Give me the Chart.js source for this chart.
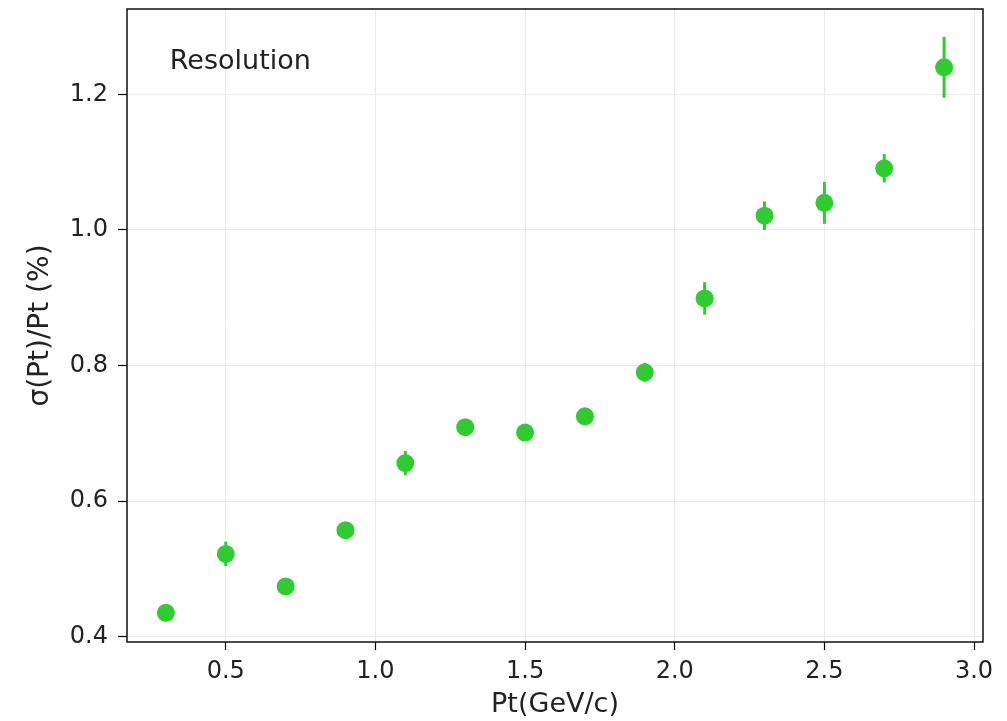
<!DOCTYPE html>
<html>
<head>
<meta charset="utf-8">
<script src="https://cdn.jsdelivr.net/npm/chart.js@4"></script>
<style>
  html, body { margin: 0; padding: 0; background: #fff; }
  #wrap { width: 1007px; height: 721px; }
</style>
</head>
<body>
<div id="wrap"><canvas id="resChart" width="1007" height="721"></canvas></div>
<script>
// data
const ptValues = [0.3, 0.5, 0.7, 0.9, 1.1, 1.3, 1.5, 1.7, 1.9, 2.1, 2.3, 2.5, 2.7, 2.9];
const resValues = [0.435, 0.522, 0.474, 0.557, 0.656, 0.709, 0.701, 0.725, 0.790, 0.899, 1.021, 1.040, 1.091, 1.240];
const resErrors = [0.006, 0.018, 0.008, 0.006, 0.018, 0.012, 0.008, 0.008, 0.014, 0.024, 0.021, 0.031, 0.021, 0.045];
const xTicks = [0.5, 1.0, 1.5, 2.0, 2.5, 3.0];
const yTicks = [0.4, 0.6, 0.8, 1.0, 1.2];

const green = '#2ecc2e';
const font = "'DejaVu Sans', sans-serif";

// error bars, drawn through the chart scales
const errorBars = {
    id: 'errorBars',
    beforeDatasetsDraw(chart) {
        const ctx = chart.ctx;
        const xs = chart.scales.x, ys = chart.scales.y;
        ctx.save();
        ctx.strokeStyle = green;
        ctx.lineWidth = 3;
        ptValues.forEach((x, i) => {
            const px = xs.getPixelForValue(x);
            ctx.beginPath();
            ctx.moveTo(px, ys.getPixelForValue(resValues[i] - resErrors[i]));
            ctx.lineTo(px, ys.getPixelForValue(resValues[i] + resErrors[i]));
            ctx.stroke();
        });
        ctx.restore();
    }
};

// frame + "Resolution" label
const frameAndLabel = {
    id: 'frameAndLabel',
    afterDraw(chart) {
        const ctx = chart.ctx;
        const a = chart.chartArea;
        ctx.save();
        ctx.strokeStyle = '#111';
        ctx.lineWidth = 1.5;
        ctx.strokeRect(a.left, a.top, a.right - a.left, a.bottom - a.top);
        ctx.fillStyle = '#222';
        ctx.font = '27px ' + font;
        ctx.textBaseline = 'middle';
        ctx.fillText('Resolution', a.left + 0.05 * (a.right - a.left), a.bottom - 0.917 * (a.bottom - a.top));
        ctx.restore();
    }
};

const ctx = document.getElementById('resChart').getContext('2d');
const resChart = new Chart(ctx, {
    type: 'scatter',
    data: {
        datasets: [{
            label: 'Resolution',
            data: ptValues.map((x, i) => ({ x: x, y: resValues[i] })),
            backgroundColor: green,
            borderColor: green,
            pointRadius: 9,
            pointBorderWidth: 0
        }]
    },
    options: {
        responsive: false,
        animation: false,
        layout: { padding: { left: 0, top: 7, right: 24, bottom: 0 } },
        plugins: { legend: { display: false }, tooltip: { enabled: false } },
        scales: {
            x: {
                type: 'linear',
                min: 0.17,
                max: 3.03,
                afterBuildTicks(axis) { axis.ticks = xTicks.map(v => ({ value: v })); },
                afterFit(axis) { axis.height = 79; axis.paddingLeft = 0; axis.paddingRight = 0; },
                grid: { color: '#ebebeb', lineWidth: 1, drawTicks: true, tickLength: 8, tickColor: '#000', tickWidth: 1.2 },
                border: { display: false },
                ticks: {
                    color: '#222',
                    font: { family: font, size: 24 },
                    padding: 7,
                    maxRotation: 0,
                    callback: v => v.toFixed(1)
                },
                title: {
                    display: true,
                    text: 'Pt(GeV/c)',
                    color: '#222',
                    font: { family: font, size: 27 },
                    padding: { top: 0, bottom: 0 }
                }
            },
            y: {
                type: 'linear',
                min: 0.392,
                max: 1.326,
                afterBuildTicks(axis) { axis.ticks = yTicks.map(v => ({ value: v })); },
                afterFit(axis) { axis.width = 127; axis.paddingTop = 0; axis.paddingBottom = 0; },
                grid: { color: '#ebebeb', lineWidth: 1, drawTicks: true, tickLength: 9, tickColor: '#000', tickWidth: 1.2 },
                border: { display: false },
                ticks: {
                    color: '#222',
                    font: { family: font, size: 24 },
                    padding: 10,
                    callback: v => v.toFixed(1)
                },
                title: {
                    display: true,
                    text: 'σ(Pt)/Pt (%)',
                    color: '#222',
                    font: { family: font, size: 28 },
                    padding: { top: 24, bottom: 2 }
                }
            }
        }
    },
    plugins: [errorBars, frameAndLabel]
});
</script>
</body>
</html>
